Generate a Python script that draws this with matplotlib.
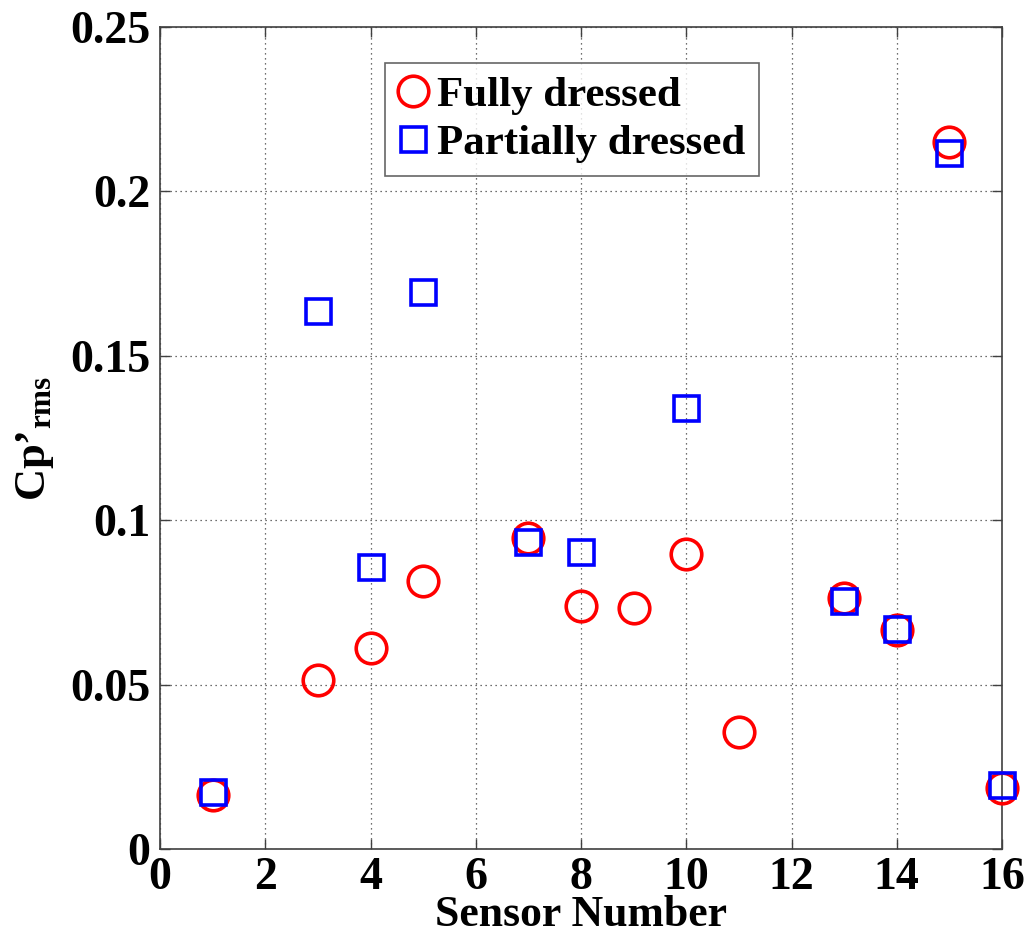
import matplotlib
matplotlib.use("Agg")
import matplotlib.pyplot as plt

# Data
sensors_full = [1, 3, 4, 5, 7, 8, 9, 10, 11, 13, 14, 15, 16]
cp_full = [0.0164, 0.0514, 0.0611, 0.0816, 0.0945, 0.0739, 0.0734, 0.0897,
           0.0357, 0.0762, 0.0666, 0.215, 0.0186]
sensors_part = [1, 3, 4, 5, 7, 8, 10, 13, 14, 15, 16]
cp_part = [0.0173, 0.1637, 0.0859, 0.1695, 0.0935, 0.0902, 0.134,
           0.0755, 0.0669, 0.2117, 0.0195]
xticks = [0, 2, 4, 6, 8, 10, 12, 14, 16]
yticks = [0, 0.05, 0.1, 0.15, 0.2, 0.25]
yticklabels = ["0", "0.05", "0.1", "0.15", "0.2", "0.25"]

plt.rcParams['font.family'] = ['Liberation Serif', 'DejaVu Serif']
plt.rcParams['font.weight'] = 'bold'
plt.rcParams['mathtext.fontset'] = 'custom'
plt.rcParams['mathtext.rm'] = 'Liberation Serif:bold'
plt.rcParams['mathtext.bf'] = 'Liberation Serif:bold'
plt.rcParams['mathtext.it'] = 'Liberation Serif:bold:italic'

fig = plt.figure(figsize=(10.29, 9.39), dpi=100)
ax = fig.add_axes([160/1029, 90/939, 842/1029, 822/939])

ax.plot(sensors_full, cp_full, linestyle='none', marker='o', markersize=22,
        markerfacecolor='none', markeredgecolor='#ff0000', markeredgewidth=2.6,
        label='Fully dressed', clip_on=False, zorder=3)
ax.plot(sensors_part, cp_part, linestyle='none', marker='s', markersize=18,
        markerfacecolor='none', markeredgecolor='#0000ff', markeredgewidth=2.6,
        label='Partially dressed', clip_on=False, zorder=4)

ax.set_xlim(0, 16)
ax.set_ylim(0, 0.25)
ax.set_xticks(xticks)
ax.set_xticklabels([str(t) for t in xticks])
ax.set_yticks(yticks)
ax.set_yticklabels(yticklabels)
ax.tick_params(direction='in', length=7, width=1, top=True, right=True,
               labelsize=33, colors='#404040', labelcolor='black')
ax.tick_params(axis='x', pad=6)
ax.tick_params(axis='y', pad=7)
for lab in ax.get_xticklabels() + ax.get_yticklabels():
    lab.set_fontweight('bold')
for sp in ax.spines.values():
    sp.set_color('#404040')
    sp.set_linewidth(1.2)

ax.grid(True, linestyle=(0, (1, 3)), color='#404040', linewidth=0.9)

ax.set_xlabel('Sensor Number', fontsize=31.5, fontweight='bold', labelpad=-3)
ax.set_ylabel("Cp\u2019$_{\\mathrm{rms}}$", fontsize=32, fontweight='bold', labelpad=10)

leg = ax.legend(loc='upper left', bbox_to_anchor=(0.267, 0.956), fontsize=31,
                frameon=True, fancybox=False, edgecolor='#404040',
                handlelength=0.7, handletextpad=0.22, borderpad=0.3,
                labelspacing=0.2, borderaxespad=0)
leg.get_frame().set_linewidth(1.2)
for t in leg.get_texts():
    t.set_fontweight('bold')

fig.savefig('out.png', dpi=100)
